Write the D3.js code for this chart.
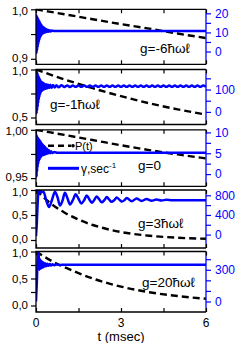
<!DOCTYPE html>
<html>
<head>
<meta charset="utf-8">
<script src="https://cdn.jsdelivr.net/npm/d3@7"></script>
<style>
  body { margin: 0; background: #fff; }
  svg text { font-family: "Liberation Sans", Arial, Helvetica, sans-serif; }
</style>
</head>
<body>
<div id="chart"></div>
<script>
// time axis (msec)
const timeTicks = [0, 1.5, 3, 4.5, 6];
const timeLabels = [0, 3, 6];

const panelNames = ["g=-6ħωℓ", "g=-1ħωℓ", "g=0", "g=3ħωℓ", "g=20ħωℓ"];

// left axis, P(t): [lowest labelled value, top value]
const pRanges = [[0.9, 1.0], [0.5, 1.0], [0.95, 1.0], [0, 1], [0, 1]];
const pTicks = [
  [0.9, 0.95, 1.0],
  [0.5, 0.75, 1.0],
  [0.95, 0.975, 1.0],
  [0, 0.25, 0.5, 0.75, 1],
  [0, 0.25, 0.5, 0.75, 1]
];
const pTickLabels = [
  ["0,9", "", "1,0"],
  ["0,5", "", "1,0"],
  ["0,95", "", "1,00"],
  ["0,0", "", "0,5", "", "1,0"],
  ["0,0", "", "0,5", "", "1,0"]
];

// right axis, gamma (sec^-1): values at the same two heights as pRanges
const gRanges = [[-3.8, 22.1], [-25, 189.5], [-0.96, 10.63], [-110, 908], [-38, 473]];
const gTicks = [
  [0, 5, 10, 15, 20],
  [0, 50, 100, 150],
  [0, 2.5, 5, 7.5, 10],
  [0, 200, 400, 600, 800],
  [0, 100, 200, 300, 400]
];
const gTickLabels = [
  ["0", "", "10", "", "20"],
  ["0", "", "100", ""],
  ["0", "", "5", "", "10"],
  ["0", "", "400", "", "800"],
  ["0", "", "", "300", ""]
];

// P(t), dashed
const p1 = [[0,1],[1,0.990],[2,0.980],[3,0.970],[4,0.961],[5,0.951],[6,0.942]];
const p2 = [[0,1],[1,0.897],[2,0.805],[3,0.722],[4,0.648],[5,0.585],[6,0.531]];
const p3 = [[0,1],[1,0.9947],[2,0.9894],[3,0.984],[4,0.979],[5,0.9745],[6,0.9704]];
const p4 = [[0,1],[0.5,0.74],[1,0.55],[1.5,0.41],[2,0.30],[2.5,0.22],[3,0.16],[4,0.085],[5,0.045],[6,0.025]];
const p5 = [[0,1],[0.5,0.84],[1,0.71],[1.5,0.60],[2,0.50],[3,0.35],[4,0.245],[5,0.175],[6,0.125]];

// gamma(t), blue
const gamma1 = [[0,10.5],[0.01,19.1],[0.02,-0.8],[0.03,18.7],[0.04,0.6],[0.05,18.2],[0.06,2.0],[0.07,17.6],
  [0.08,3.4],[0.09,17.0],[0.10,4.7],[0.11,16.4],[0.12,5.8],[0.13,15.8],[0.14,6.8],[0.15,15.2],[0.16,7.6],
  [0.17,14.6],[0.18,8.2],[0.19,14.1],[0.20,8.7],[0.21,13.6],[0.22,9.1],[0.23,13.2],[0.24,9.4],[0.25,12.8],
  [0.27,9.7],[0.29,12.4],[0.31,9.9],[0.33,12.0],[0.35,10.1],[0.37,11.7],[0.39,10.3],[0.42,11.4],[0.45,10.4],
  [0.48,11.2],[0.52,10.5],[0.57,11.0],[0.65,10.7],[0.8,10.8],[6,10.8]];

const gamma2 = [[0,110],[0.01,186],[0.02,-7],[0.03,182],[0.04,6],[0.05,176],[0.06,22],[0.07,169],[0.08,38],
  [0.09,162],[0.10,52],[0.11,156],[0.12,64],[0.13,150],[0.14,74],[0.15,145],[0.16,82],[0.17,140],[0.18,88],
  [0.19,136],[0.20,93],[0.22,132],[0.24,97],[0.26,129],[0.28,100],[0.30,126],[0.33,103],[0.36,124],[0.39,105],
  [0.42,122],[0.46,107],[0.50,121],[0.55,108],[0.60,120],[0.66,109],[0.72,119],[0.8,110],[0.9,119],[1.0,111],
  [1.1,118],[1.2,111],[1.3,118],[1.4,112],[1.5,118],[1.6,112],[1.7,118],[1.8,112],[1.9,118],[2.0,112],
  [2.1,118],[2.2,112],[2.3,118],[2.4,112],[2.5,118],[2.6,112],[2.7,118],[2.8,112],[2.9,118],[3.0,112],
  [3.1,118],[3.2,112],[3.3,118],[3.4,112],[3.5,118],[3.6,112],[3.7,118],[3.8,112],[3.9,118],[4.0,112],
  [4.1,118],[4.2,112],[4.3,118],[4.4,112],[4.5,118],[4.6,112],[4.7,118],[4.8,112],[4.9,118],[5.0,112],
  [5.1,118],[5.2,112],[5.3,118],[5.4,112],[5.5,118],[5.6,112],[5.7,118],[5.8,112],[5.9,118],[6.0,112]];

const gamma3 = [[0,5],[0.01,9.5],[0.02,-0.6],[0.03,9.3],[0.04,0.6],[0.05,9.0],[0.06,1.6],[0.07,8.8],[0.08,2.3],
  [0.09,8.6],[0.10,2.9],[0.11,8.4],[0.12,3.3],[0.13,8.2],[0.14,3.6],[0.15,8.0],[0.16,3.9],[0.17,7.8],[0.18,4.1],
  [0.19,7.6],[0.20,4.3],[0.22,7.3],[0.24,4.5],[0.26,7.0],[0.28,4.6],[0.30,6.7],[0.32,4.7],[0.34,6.4],[0.36,4.8],
  [0.39,6.1],[0.42,4.9],[0.45,5.8],[0.49,5.0],[0.53,5.5],[0.58,5.05],[0.65,5.3],[0.75,5.1],[6,5.1]];

const gamma4 = [[0,-30],[0.03,250],[0.06,650],[0.09,880],[0.13,905],[0.18,860],[0.26,880],[0.36,700],[0.46,560],
  [0.56,700],[0.67,873],[0.76,760],[0.85,592],[0.94,700],[1.02,851],[1.11,740],[1.2,614],[1.3,700],[1.4,819],
  [1.5,730],[1.6,635],[1.7,700],[1.79,797],[1.88,720],[1.97,646],[2.05,700],[2.14,776],[2.23,720],[2.32,657],
  [2.41,700],[2.5,765],[2.58,715],[2.67,668],[2.76,700],[2.85,754],[2.94,712],[3.03,672],[3.12,700],[3.2,745],
  [3.38,678],[3.55,735],[3.73,685],[3.9,725],[4.08,690],[4.25,715],[4.43,695],[4.6,708],[4.8,700],[6,700]];

const gamma5 = [[0,0],[0.03,180],[0.06,420],[0.08,480],[0.10,420],[0.12,300],[0.14,400],[0.16,310],[0.18,385],
  [0.20,315],[0.22,375],[0.24,322],[0.27,368],[0.30,328],[0.33,362],[0.36,333],[0.40,358],[0.44,337],[0.48,355],
  [0.53,340],[0.58,352],[0.64,343],[0.72,350],[0.85,346],[1.0,348],[6,347]];

const pSeries = [p1, p2, p3, p4, p5];
const gSeries = [gamma1, gamma2, gamma3, gamma4, gamma5];

// layout
const W = 240, H = 343;
const xL = 36, xR = 206;
const panelTop = [9.3, 69.5, 129.8, 190, 251.5];
const panelH = [55, 55, 56.5, 58, 60.5];
const tickSpan = [49.5, 48, 48.3, 50, 54];
const nameOffset = [[140, 44], [50, 39], [138, 40.5], [138, 38], [142, 35]];
const blue = "#0000ff";

const svg = d3.select("#chart").append("svg")
  .attr("width", W).attr("height", H);

const x = d3.scaleLinear().domain([0, 6]).range([xL, xR]);

pSeries.forEach((pData, i) => {
  const top = panelTop[i], ph = panelH[i], span = tickSpan[i];
  const yP = d3.scaleLinear().domain(pRanges[i]).range([top + span, top]);
  const yG = d3.scaleLinear().domain(gRanges[i]).range([top + span, top]);
  const g = svg.append("g");

  g.append("clipPath").attr("id", "clip" + i)
    .append("rect").attr("x", xL).attr("y", top).attr("width", xR - xL).attr("height", ph);

  const plot = g.append("g").attr("clip-path", `url(#clip${i})`);

  // P(t)
  plot.append("path")
    .datum(pData)
    .attr("fill", "none")
    .attr("stroke", "#000")
    .attr("stroke-width", 2.4)
    .attr("stroke-dasharray", "7,4")
    .attr("d", d3.line().x(d => x(d[0])).y(d => yP(d[1])).curve(d3.curveMonotoneX));

  // gamma
  plot.append("path")
    .datum(gSeries[i])
    .attr("fill", "none")
    .attr("stroke", blue)
    .attr("stroke-width", 2.5)
    .attr("stroke-linejoin", "round")
    .attr("d", d3.line().x(d => x(d[0])).y(d => yG(d[1])).curve(d3.curveMonotoneX));

  // frame
  g.append("path")
    .attr("fill", "none").attr("stroke", "#000").attr("stroke-width", 1.3)
    .attr("d", `M${xR},${top}H${xL}V${top + ph}H${xR}`);
  g.append("line")
    .attr("x1", xR).attr("x2", xR).attr("y1", top).attr("y2", top + ph)
    .attr("stroke", blue).attr("stroke-width", 1.3);

  // top & bottom time ticks (inward)
  const tTop = g.append("g").attr("transform", `translate(0,${top})`)
    .call(d3.axisTop(x).tickValues(timeTicks).tickSize(-4).tickFormat(""));
  const tBot = g.append("g").attr("transform", `translate(0,${top + ph})`)
    .call(d3.axisBottom(x).tickValues(timeTicks).tickSize(-4).tickFormat(""));
  [tTop, tBot].forEach(a => {
    a.select(".domain").remove();
    a.selectAll("line").attr("stroke-width", 1.2);
  });

  // left axis
  const aL = g.append("g").attr("transform", `translate(${xL},0)`)
    .call(d3.axisLeft(yP).tickValues(pTicks[i]).tickSize(5).tickPadding(3)
      .tickFormat((d, j) => pTickLabels[i][j]));
  aL.select(".domain").remove();
  aL.selectAll("line").attr("stroke-width", 1.2);
  aL.selectAll("text").attr("font-size", 11.5).attr("fill", "#000")
    .style("font-family", "'Liberation Sans', Arial, sans-serif");
  // keep stacked labels of neighbouring panels apart
  aL.selectAll(".tick").filter(d => d === pRanges[i][1]).select("text").attr("y", 1.5);
  aL.selectAll(".tick").filter(d => d === pRanges[i][0]).select("text").attr("y", -1);

  // right axis
  const aR = g.append("g").attr("transform", `translate(${xR},0)`)
    .call(d3.axisRight(yG).tickValues(gTicks[i]).tickSize(5).tickPadding(4)
      .tickFormat((d, j) => gTickLabels[i][j]));
  aR.select(".domain").remove();
  aR.selectAll("line").attr("stroke", blue).attr("stroke-width", 1.2);
  aR.selectAll("text").attr("font-size", 12).attr("fill", blue)
    .style("font-family", "'Liberation Sans', Arial, sans-serif");

  // panel name
  g.append("text")
    .attr("x", nameOffset[i][0]).attr("y", top + nameOffset[i][1])
    .attr("font-size", 13.5).attr("fill", "#000")
    .text(panelNames[i]);

  // legend lives in the g=0 panel
  if (i === 2) {
    g.append("line")
      .attr("x1", 48).attr("x2", 71).attr("y1", top + 16).attr("y2", top + 16)
      .attr("stroke", "#000").attr("stroke-width", 2.4).attr("stroke-dasharray", "6,4");
    g.append("circle").attr("cx", 73).attr("cy", top + 16).attr("r", 1.8).attr("fill", "#000");
    g.append("text").attr("x", 75).attr("y", top + 20).attr("font-size", 11).text("P(t)");

    g.append("line")
      .attr("x1", 48).attr("x2", 79).attr("y1", top + 38.5).attr("y2", top + 38.5)
      .attr("stroke", blue).attr("stroke-width", 3);
    const lt = g.append("text").attr("x", 81).attr("y", top + 43).attr("font-size", 12);
    lt.append("tspan").text("γ,sec");
    lt.append("tspan").attr("font-size", 8).attr("dy", -5).text("-1");
  }

  // time labels under the last panel
  if (i === pSeries.length - 1) {
    g.selectAll("text.tl")
      .data(timeLabels)
      .join("text")
      .attr("class", "tl")
      .attr("x", d => x(d)).attr("y", top + ph + 14.5)
      .attr("text-anchor", "middle").attr("font-size", 12)
      .text(d => d);
    g.append("text")
      .attr("x", x(3)).attr("y", top + ph + 29)
      .attr("text-anchor", "middle").attr("font-size", 13)
      .text("t (msec)");
  }
});
</script>
</body>
</html>
